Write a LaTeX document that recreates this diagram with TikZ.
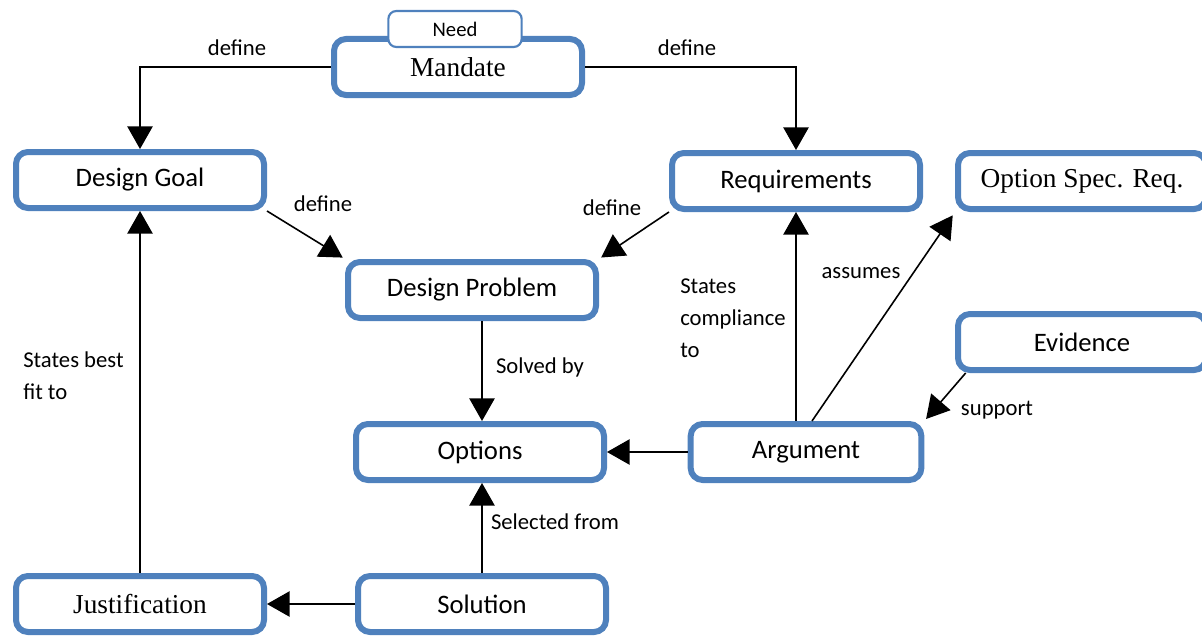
\documentclass[tikz,border=0pt]{standalone}
\usepackage{fontspec}
\setmainfont{Carlito}
\newfontfamily\timesfont{Liberation Serif}
\usetikzlibrary{arrows.meta}
\definecolor{boxblue}{RGB}{79,129,189}
\begin{document}
\begin{tikzpicture}[x=0.75pt, y=-0.75pt,
	box/.style={draw=boxblue, line width=4.5pt, rounded corners=9pt, fill=white,
		minimum width=186pt, minimum height=42pt, inner sep=2pt,
		font=\fontsize{20}{24}\selectfont},
	serifbox/.style={box, font=\timesfont\fontsize{20.5}{24}\selectfont},
	lbl/.style={font=\fontsize{17}{24}\selectfont, inner sep=0pt},
	arr/.style={line width=1.2pt, -{Triangle[length=17pt, width=19pt]}}]
	\useasboundingbox (0,0) rectangle (1202,635);

	% boxes
	\node[serifbox] (mandate) at (458,67) {Mandate};
	\node[draw=boxblue, line width=1.6pt, rounded corners=6pt, fill=white,
		minimum width=100pt, minimum height=27pt, inner sep=1pt,
		font=\fontsize{15.5}{18}\selectfont] (need) at (455,29) {Need};
	\node[box] (goal) at (140,180) {Design Goal};
	\node[box] (req) at (796,181) {Requirements};
	\node[serifbox] (osr) at (1082,181) {Option Spec. Req.};
	\node[box] (problem) at (472,290) {Design Problem};
	\node[box] (evidence) at (1082,342) {Evidence};
	\node[box] (options) at (480,452) {Options};
	\node[box, minimum width=173pt] (argument) at (806,452) {Argument};
	\node[serifbox] (justif) at (140,604) {Justification};
	\node[box] (solution) at (482,604) {Solution};

	% connectors
	\draw[arr] (mandate.west) -| (goal.north);
	\draw[arr] (mandate.east) -| (req.north);
	\draw[arr, shorten >=2pt] (goal.south east) -- (problem.north west);
	\draw[arr, shorten >=2pt] (req.south west) -- (problem.north east);
	\draw[arr] (problem.south -| solution) -- (options.north -| solution);
	\draw[arr] (argument.north -| req) -- (req.south);
	\draw[arr, shorten >=3pt] ([xshift=4.5pt]argument.north) -- (osr.south west);
	\draw[arr, shorten >=2pt] ([xshift=8pt]evidence.south west) -- (argument.north east);
	\draw[arr] (argument.west) -- (options.east);
	\draw[arr] (solution.north) -- (options.south -| solution);
	\draw[arr] (justif.north) -- (goal.south);
	\draw[arr] (solution.west) -- (justif.east);

	% labels
	\node[lbl] (l1) at (237,48) {define};
	\node[lbl] (l2) at (687,48) {define};
	\node[lbl] (l3) at (323,204) {define};
	\node[lbl] (l4) at (612,208) {define};
	\node[lbl] (l5) at (540,367) {Solved by};
	\node[lbl, align=left, anchor=north west] (l6) at (680,279) {States\\compliance\\to};
	\node[lbl] (l7) at (861,273) {assumes};
	\node[lbl] (l8) at (997,410) {support};
	\node[lbl] (l9) at (555,522) {Selected from};
	\node[lbl, align=left, anchor=north west] (l10) at (23,351) {States best\\fit to};
\end{tikzpicture}
\end{document}
